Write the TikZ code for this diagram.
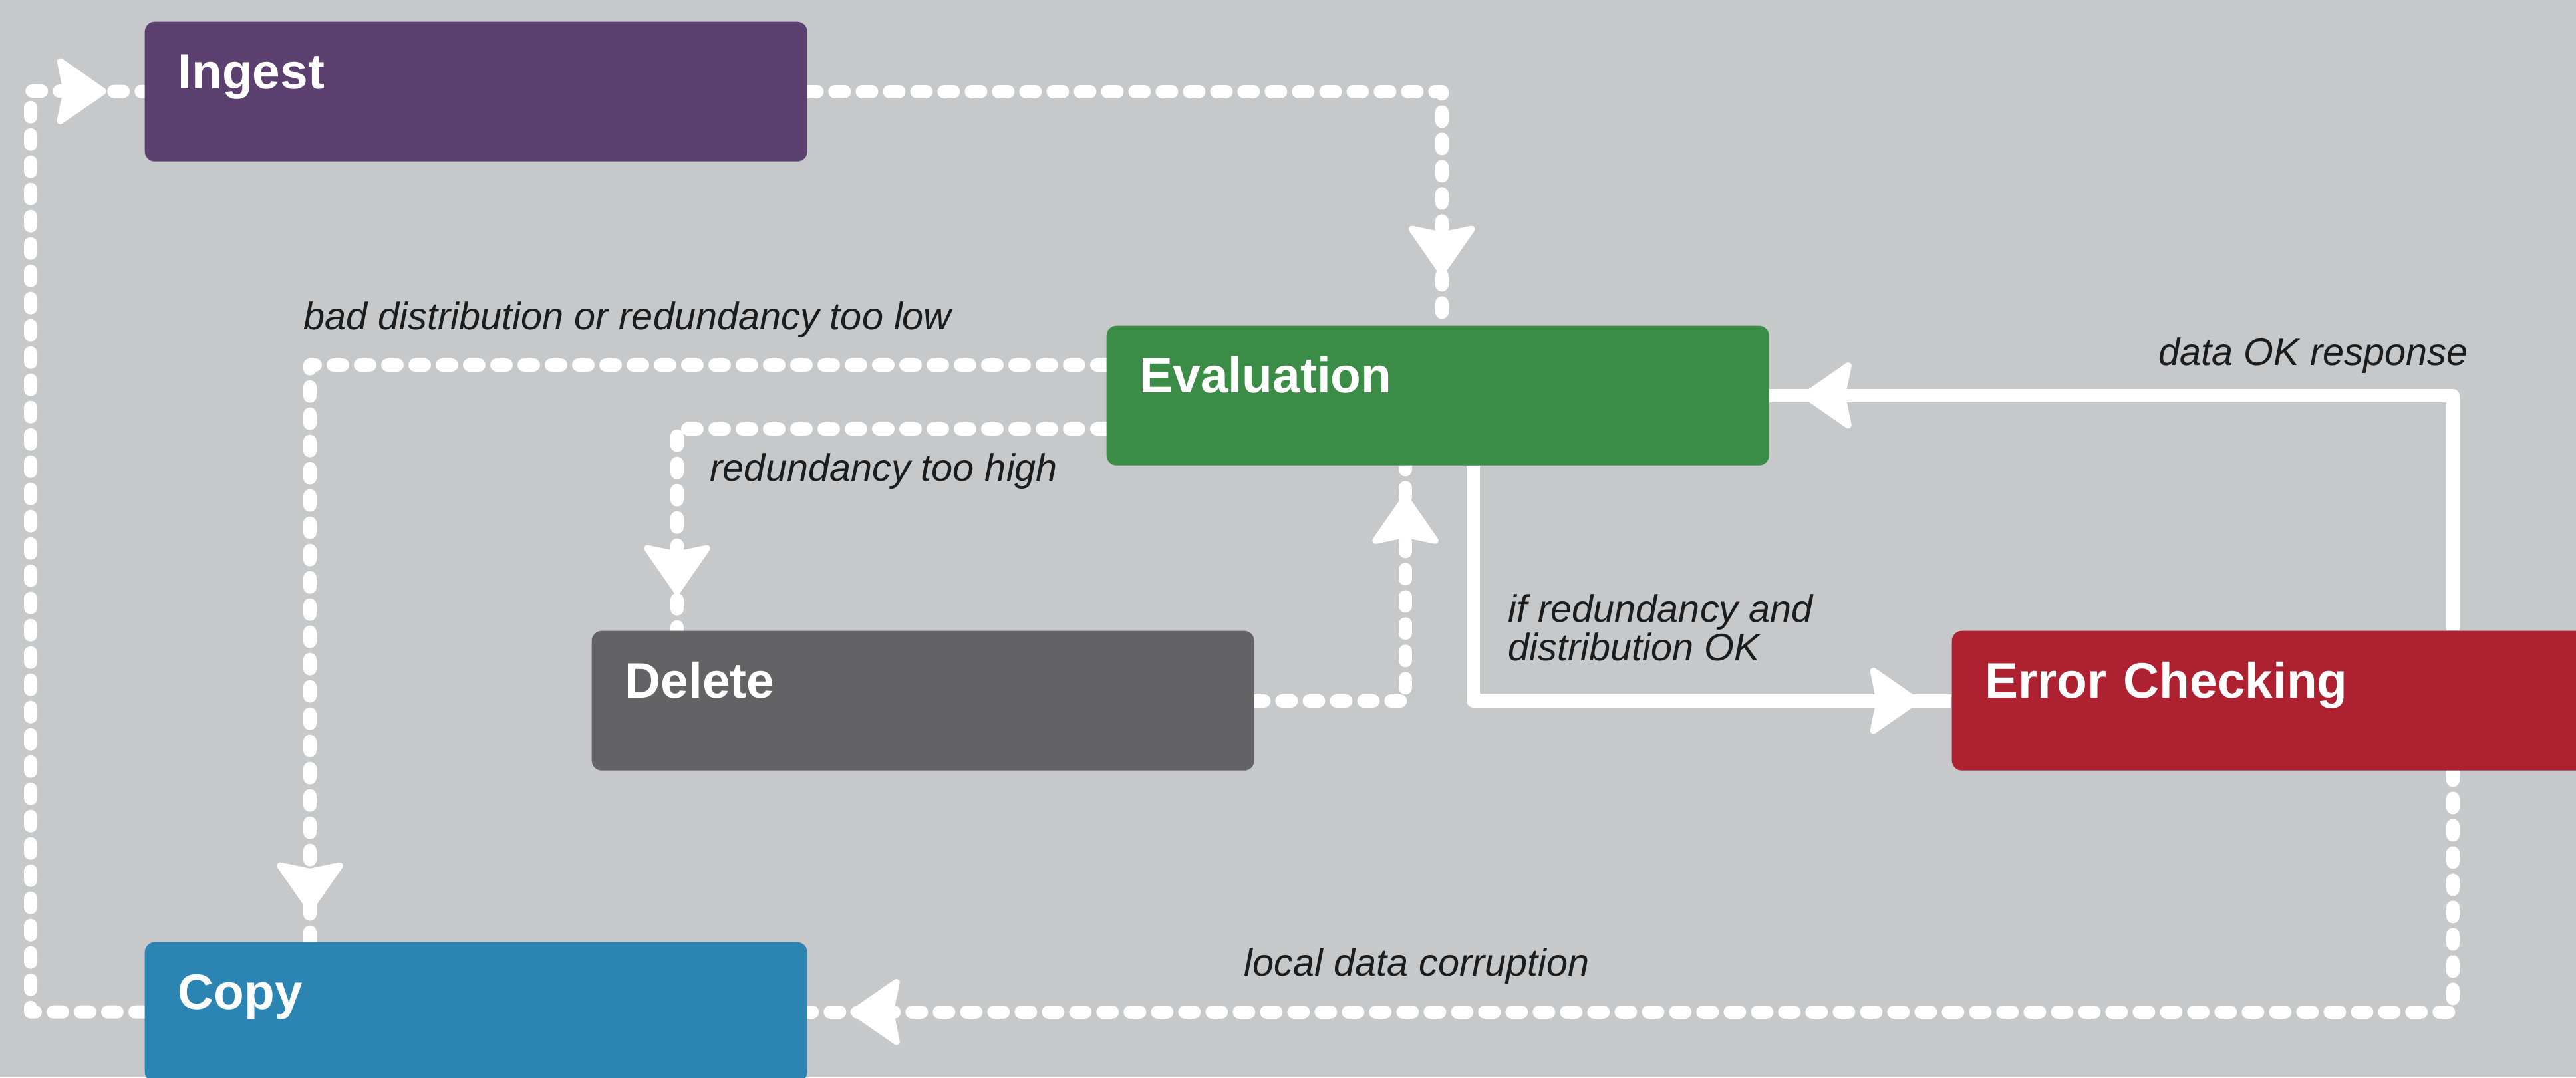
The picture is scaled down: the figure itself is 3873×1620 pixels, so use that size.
\documentclass[tikz,border=0pt]{standalone}
\usepackage{fontspec}
\setmainfont{Liberation Sans}
\usetikzlibrary{arrows.meta,decorations.markings,backgrounds}
\definecolor{bgc}{HTML}{C7C8CA}
\definecolor{ingestc}{HTML}{5B4070}
\definecolor{evalc}{HTML}{3B8C46}
\definecolor{deletec}{HTML}{636365}
\definecolor{errorc}{HTML}{AD2130}
\definecolor{copyc}{HTML}{2C84B3}
\definecolor{labelc}{HTML}{1C1C1C}
\tikzset{
  box/.style={rectangle, rounded corners=1.5mm, text width=89.6mm, inner xsep=5mm, inner ysep=0pt,
    text height=10.1mm, text depth=10.9mm, align=left, anchor=north west, text=white,
    font=\fontsize{21.3pt}{25pt}\selectfont\bfseries},
  lbl/.style={anchor=base west, inner sep=0pt, text=labelc, align=left,
    font=\fontsize{16.4pt}{16.5pt}\selectfont\itshape},
  flow/.style={draw=white, line width=2mm, line join=round},
  dline/.style={flow, line cap=round, dash pattern=on 1.4mm off 2.7mm},
  sline/.style={flow, line cap=butt},
  tipat/.style={postaction={decorate, decoration={markings,
     mark=at position -#1 with {\pgfsetdash{}{0pt}\arrow{Stealth[length=8mm, width=11mm, inset=1.1mm, round, line width=1mm]}}}}}
}
\begin{document}
\begin{tikzpicture}[x=0.1mm, y=-0.1mm]
\useasboundingbox (0,0) rectangle (3873,1620);
\node[box, fill=ingestc] (ingest) at (217,32) {Ingest};
\node[box, fill=evalc] (eval) at (1663,489) {Evaluation};
\node[box, fill=deletec] (delete) at (889,948) {Delete};
\node[box, fill=errorc, text width=110mm] (error) at (2934,948) {Error Checking};
\node[box, fill=copyc] (copy) at (217,1416) {Copy};
\coordinate (lc) at (46,137);

\node[lbl] (l1) at (456,495) {bad distribution or redundancy too low};
\node[lbl] (l2) at (1067,723) {redundancy too high};
\node[lbl] (l3) at (2267,993) {if redundancy and\\distribution OK};
\node[lbl] (l4) at (3245,549) {data OK response};
\node[lbl] (l5) at (1870,1467) {local data corruption};

\begin{scope}[on background layer]
\fill[bgc] (0,0) rectangle (3873,1620);
\draw[dline, tipat=7.5mm] (ingest.east) -| ([xshift=0.6mm]eval.north);
\draw[dline, tipat=4.5mm] ([yshift=4.6mm]eval.west) -| ([xshift=24.9mm]copy.north west);
\draw[dline, tipat=5.4mm] ([yshift=-5mm]eval.west) -| ([xshift=12.9mm]delete.north west);
\draw[dline, tipat=4.3mm] (delete.east) -| ([xshift=45mm]eval.south west);
\draw[sline, tipat=4.8mm] ([xshift=55.2mm]eval.south west) |- (error.west);
\draw[sline, tipat=4.9mm] ([xshift=75.4mm]error.north west) |- (eval.east);
\draw[dline, tipat=6.4mm] ([xshift=75.4mm]error.south west) |- (copy.east);
\draw[dline, tipat=5.7mm] (copy.west) -| (lc) -- (ingest.west);
\end{scope}
\end{tikzpicture}
\end{document}
